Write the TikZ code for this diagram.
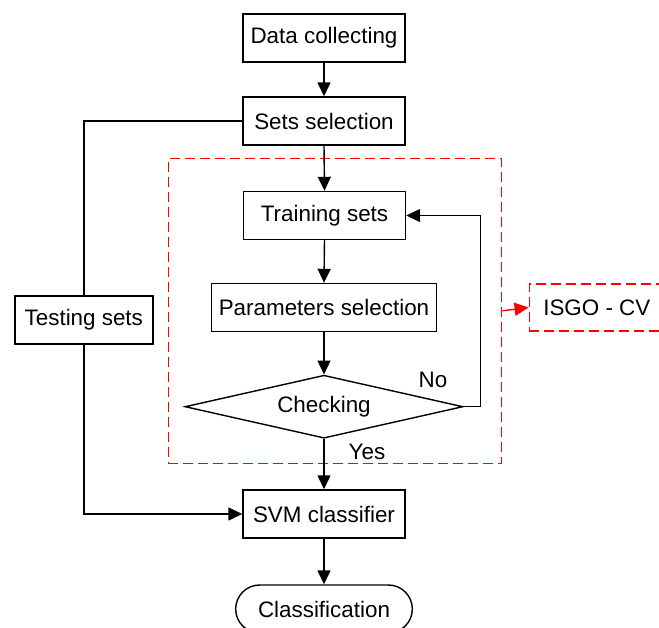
\documentclass[tikz,border=0pt]{standalone}
\usepackage{fontspec}
\setmainfont{Liberation Sans}
\usetikzlibrary{arrows.meta,positioning,shapes.geometric,shapes.misc}

\begin{document}
\begin{tikzpicture}[
        x=0.5pt, y=-0.5pt,
        font=\fontsize{11.2}{13}\selectfont,
        procbox/.style={rectangle, draw, line width=0.7pt, minimum width=81pt,
                        minimum height=24pt, inner sep=2pt, align=center},
        arr/.style={-{Triangle[length=7pt, width=6.5pt]}, line width=0.7pt},
        redarr/.style={-{Triangle[length=7pt, width=6.5pt]}, line width=0.7pt, red},
        cvframe/.style={rectangle, draw=red, line width=0.7pt,
                        dash pattern=on 5pt off 2.5pt}
      ]
        \useasboundingbox (0,0) rectangle (659,627);

        % main flow
        \node[procbox] (dc)   at (324, 38)    {Data collecting};
        \node[procbox] (ss)   at (324, 121)   {Sets selection};
        \node[procbox] (tr)   at (324.5, 215.5) {Training sets};
        \node[procbox, minimum width=112.5pt] (ps) at (324, 307.5) {Parameters selection};
        \node[diamond, draw, line width=0.7pt, aspect=4.4, inner sep=0pt,
              minimum width=139pt, minimum height=31.5pt] (chk) at (324, 406.7) {Checking};
        \node[procbox] (svm)  at (324, 514)   {SVM classifier};
        \node[rounded rectangle, draw, line width=0.7pt, minimum width=95pt,
              minimum height=24pt] (cls) at (324, 609) {Classification};

        % testing branch
        \node[procbox, minimum width=69pt] (test) at (83.8, 320) {Testing sets};

        % ISGO-CV frame
        \node[cvframe, minimum width=166.7pt, minimum height=152.5pt] (cv) at (335, 310.8) {};
        \node[cvframe, minimum width=67.5pt, minimum height=23.5pt] (isgo) at (596.8, 307.5) {ISGO - CV};

        \draw[arr] (dc.south)  -- (ss.north);
        \draw[arr] (ss.south)  -- (tr.north);
        \draw[arr] (tr.south)  -- (ps.north);
        \draw[arr] (ps.south)  -- (chk.north);
        \draw[arr] (chk.east) -- ++(17,0) |- (tr.east);
        \draw[arr] (chk.south) -- (svm.north);
        \draw[arr] (svm.south) -- (cls.north);
        \draw[line width=0.7pt] (ss.west) -| (test.north);
        \draw[arr] (test.south) |- (svm.west);
        \draw[redarr] (cv.east) -- (isgo.west);

        \node (no)  at (433, 380)   {No};
        \node (yes) at (367, 451.7) {Yes};
      \end{tikzpicture}
\end{document}
